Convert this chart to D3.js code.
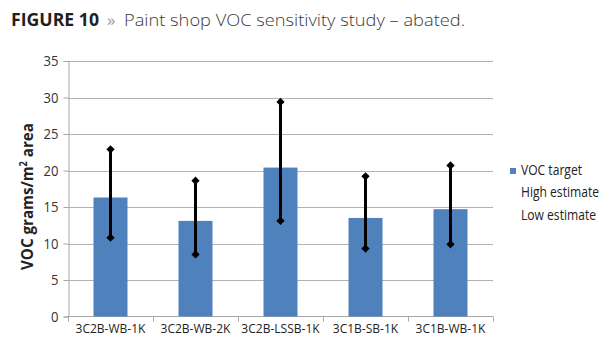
<!DOCTYPE html>
<html><head><meta charset="utf-8">
<script src="https://cdn.jsdelivr.net/npm/d3@7/dist/d3.min.js"></script>
<style>body{margin:0;background:#fff;}svg{display:block;}</style>
</head><body>
<svg id="c" width="615" height="350"></svg>
<script>
const categories = ["3C2B-WB-1K","3C2B-WB-2K","3C2B-LSSB-1K","3C1B-SB-1K","3C1B-WB-1K"];
const vocTarget = [16.3, 13.1, 20.4, 13.5, 14.7];
const highEstimate = [22.9, 18.6, 29.4, 19.2, 20.7];
const lowEstimate = [10.8, 8.5, 13.1, 9.3, 9.9];
const yTicks = [0,5,10,15,20,25,30,35];
const legendLabels = ["VOC target","High estimate","Low estimate"];

const svg = d3.select("#c");
const font = "'Open Sans', sans-serif";
const L = 68, R = 493, T = 61, B = 316.5;

const x = d3.scaleBand().domain(categories).range([L, R]).paddingInner(0.6).paddingOuter(0.3);
const xb = d3.scaleBand().domain(categories).range([L, R]);
const y = d3.scaleLinear().domain([0, 35]).range([B, T]);

function squeeze(sel, k) {
  sel.each(function() {
    const w = this.getComputedTextLength();
    d3.select(this).attr("textLength", w * k).attr("lengthAdjust", "spacingAndGlyphs");
  });
}

// Title
const title = svg.append("text").attr("y", 25.5).attr("font-family", font).attr("font-size", 17);
title.append("tspan").attr("x", 11).attr("font-weight", 700).attr("fill", "#231f20").attr("textLength", 88).attr("lengthAdjust","spacingAndGlyphs").text("FIGURE 10");
title.append("tspan").attr("x", 107).attr("fill", "#9a9a9a").attr("font-weight", 400).text("»");
title.append("tspan").attr("x", 124).attr("fill", "#3a3a3a").attr("font-weight", 300).attr("textLength", 341).attr("lengthAdjust","spacingAndGlyphs").text("Paint shop VOC sensitivity study – abated.");

// gridlines
svg.append("g").selectAll("line").data(yTicks.filter(d => d > 0)).join("line")
  .attr("x1", L).attr("x2", R).attr("y1", d => Math.round(y(d)) + 0.5).attr("y2", d => Math.round(y(d)) + 0.5)
  .attr("stroke", "#b3b3b3").attr("stroke-width", 1);

// Y axis
const yAxis = svg.append("g").attr("transform", `translate(${L + 0.5},0)`)
  .call(d3.axisLeft(y).tickValues(yTicks).tickSize(5).tickPadding(5));
yAxis.select(".domain").attr("stroke", "#a6a6a6");
yAxis.selectAll(".tick line").attr("stroke", "#a6a6a6");
yAxis.selectAll("text").attr("font-family", font).attr("font-size", 14.5).attr("fill", "#333").call(squeeze, 0.9);

// X axis
const xAxisG = svg.append("g");
xAxisG.append("line").attr("x1", L).attr("x2", R).attr("y1", B).attr("y2", B).attr("stroke", "#a6a6a6");
const bounds = categories.map(c => xb(c)).concat([R]);
xAxisG.selectAll("line.t").data(bounds).join("line").attr("class","t")
  .attr("x1", d => d + 0.5).attr("x2", d => d + 0.5).attr("y1", B).attr("y2", B + 5).attr("stroke", "#a6a6a6");
const xl = xAxisG.selectAll("text").data(categories).join("text")
  .attr("x", d => xb(d) + xb.bandwidth() / 2).attr("y", 333)
  .attr("text-anchor", "middle").attr("font-family", font).attr("font-size", 13.5).attr("fill", "#222")
  .text(d => d);
const k0 = 70 / xl.node().getComputedTextLength();
xl.call(squeeze, k0);

// Y title
const ytg = svg.append("g");
const yt = ytg.append("text")
  .attr("text-anchor", "start").attr("font-family", font).attr("font-weight", 700).attr("font-size", 16.5).attr("fill", "#222")
  .call(t => {
    t.append("tspan").text("VOC grams/m");
    t.append("tspan").attr("font-size", 10).attr("dy", -6).text("2");
    t.append("tspan").attr("dy", 6).text(" area");
  });
{
  const bb = yt.node().getBBox();
  const k = 147 / bb.width;
  // text runs bottom (y=270) to top (y=123)
  ytg.attr("transform", `translate(33,270) rotate(-90) scale(${k},1) translate(${-bb.x},0)`);
}

// Bars
svg.append("g").selectAll("rect").data(categories).join("rect")
  .attr("x", d => x(d)).attr("width", x.bandwidth())
  .attr("y", (d, i) => y(vocTarget[i])).attr("height", (d, i) => B - y(vocTarget[i]))
  .attr("fill", "#4f81bd");

// Error lines
const cx = d => xb(d) + xb.bandwidth() / 2;
const eg = svg.append("g");
eg.selectAll("line").data(categories).join("line")
  .attr("x1", cx).attr("x2", cx)
  .attr("y1", (d, i) => y(highEstimate[i])).attr("y2", (d, i) => y(lowEstimate[i]))
  .attr("stroke", "#000").attr("stroke-width", 3);
const diamond = d3.symbol().type(d3.symbolDiamond2).size(44);
const pts = [];
categories.forEach((c, i) => { pts.push([cx(c), y(highEstimate[i])]); pts.push([cx(c), y(lowEstimate[i])]); });
eg.selectAll("path").data(pts).join("path")
  .attr("d", diamond).attr("transform", d => `translate(${d[0]},${d[1]})`).attr("fill", "#000");

// Legend
const lg = svg.append("g").attr("font-family", font).attr("font-size", 14).attr("fill", "#222");
lg.append("rect").attr("x", 510).attr("y", 168).attr("width", 6).attr("height", 6).attr("fill", "#4f81bd");
const lt = lg.selectAll("text").data(legendLabels).join("text")
  .attr("x", 521).attr("y", (d, i) => 174.5 + i * 22.8).text(d => d);
const kl = 78 / lt.nodes()[1].getComputedTextLength();
lt.call(squeeze, kl);
</script>
</body></html>
